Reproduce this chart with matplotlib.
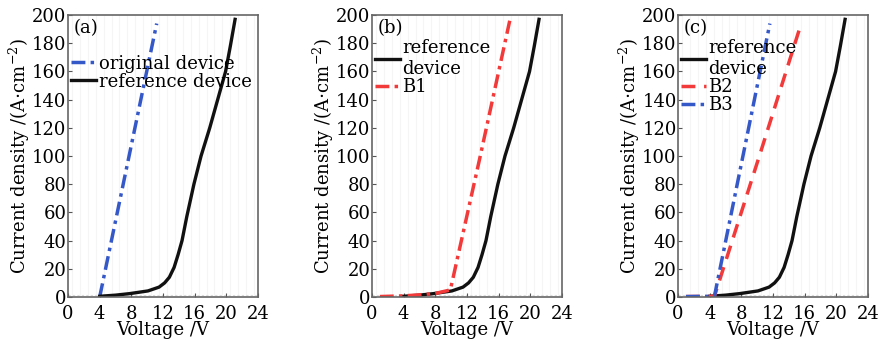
import numpy as np
import matplotlib
matplotlib.use("Agg")
import matplotlib.pyplot as plt

plt.rcParams["font.family"] = ["DejaVu Serif"]
plt.rcParams["mathtext.fontset"] = "dejavuserif"

# ----- J-V data (V in volts, J in A/cm^2) -----
ref_v = [4.0, 6.0, 7.8, 10.1, 11.5, 12.2, 12.8, 13.4, 13.9, 14.4, 15.0, 15.9,
         16.8, 17.9, 18.9, 19.9, 20.5, 21.1]
ref_j = [0.5, 1.3, 2.4, 4.3, 7.0, 10.0, 14.0, 21.0, 30.0, 40.0, 57.0, 80.0,
         100.0, 120.0, 140.0, 160.0, 178.0, 197.0]

orig_v = [4.0, 11.2]
orig_j = [0.0, 194.0]

b1_v = [1.0, 4.0, 6.0, 8.0, 9.9, 13.6, 17.4]
b1_j = [0.3, 0.8, 1.5, 2.5, 5.0, 98.0, 196.0]

b2_v = [1.0, 4.6, 10.5, 15.5]
b2_j = [0.3, 0.5, 104.0, 193.0]

b3_v = [1.0, 4.6, 11.6]
b3_j = [0.3, 0.5, 194.0]

x_ticks = [0, 4, 8, 12, 16, 20, 24]
y_ticks = [0, 20, 40, 60, 80, 100, 120, 140, 160, 180, 200]

BLUE = "#3558c8"
RED = "#f23a3a"
BLACK = "#111111"
FS = 13

fig = plt.figure(figsize=(8.81, 3.48), dpi=100)
lefts = [0.0772, 0.4222, 0.7696]
axes = [fig.add_axes([l, 0.1466, 0.2157, 0.810]) for l in lefts]


def style_axis(ax, tag):
    ax.set_xlim(0, 24)
    ax.set_ylim(0, 200)
    ax.set_xticks(x_ticks)
    ax.set_yticks(y_ticks)
    ax.tick_params(direction="in", length=3, width=0.8, labelsize=FS,
                   pad=1, colors="#555555", labelcolor="black")
    ax.tick_params(axis="x", pad=5.5)
    for sp in ax.spines.values():
        sp.set_color("#666666")
        sp.set_linewidth(1.2)
    # faint vertical streaks in the plot background
    for xv in np.arange(0.5, 24, 1.0):
        ax.axvline(xv, color="#f5f5f5", lw=0.8, zorder=0)
    ax.axhline(1.5, color="#dddddd", lw=0.8, ls=(0, (2, 2)), zorder=0)
    ax.set_xlabel("Voltage /V", fontsize=FS, labelpad=-1.2)
    ax.set_ylabel(r"Current density /(A$\cdot$cm$^{-2}$)", fontsize=FS,
                  labelpad=0)
    ax.text(0.03, 0.985, tag, transform=ax.transAxes, fontsize=FS,
            ha="left", va="top")


def add_legend(ax, y_top):
    ax.legend(loc="upper left", bbox_to_anchor=(-0.02, y_top), frameon=False,
              fontsize=FS, handlelength=1.35, handletextpad=0.15,
              labelspacing=0.0, borderaxespad=0.0)


# (a)
ax = axes[0]
ax.plot(orig_v, orig_j, color=BLUE, lw=2.5, ls=(0, (4, 1.5, 1, 1.5)),
        label="original device")
ax.plot(ref_v, ref_j, color=BLACK, lw=2.4, label="reference device")
style_axis(ax, "(a)")
add_legend(ax, 0.885)

# (b)
ax = axes[1]
ax.plot(ref_v, ref_j, color=BLACK, lw=2.4, label="reference\ndevice")
ax.plot(b1_v, b1_j, color=RED, lw=2.5, ls=(0, (4, 1.5, 1, 1.5)), label="B1")
style_axis(ax, "(b)")
add_legend(ax, 0.94)

# (c)
ax = axes[2]
ax.plot(ref_v, ref_j, color=BLACK, lw=2.4, label="reference\ndevice")
ax.plot(b2_v, b2_j, color=RED, lw=2.5, ls=(0, (4, 2.5)), label="B2")
ax.plot(b3_v, b3_j, color=BLUE, lw=2.5, ls=(0, (4, 1.5, 1, 1.5)), label="B3")
style_axis(ax, "(c)")
add_legend(ax, 0.94)

fig.savefig("out.png", dpi=100)
